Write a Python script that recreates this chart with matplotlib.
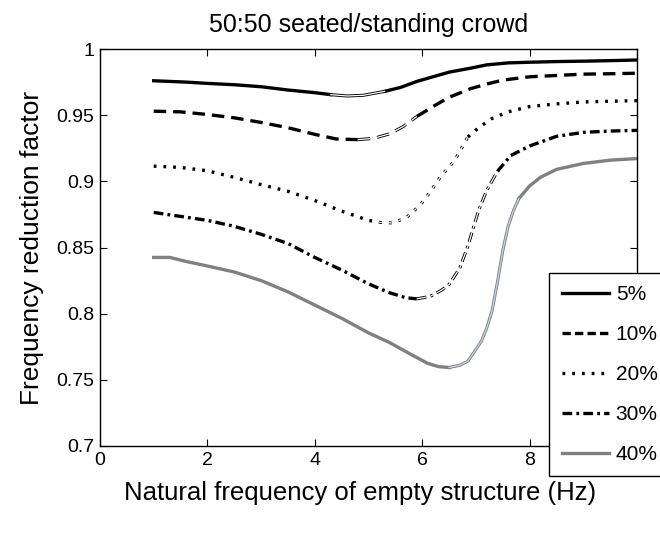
import matplotlib
matplotlib.use("Agg")
import matplotlib.pyplot as plt
from matplotlib.lines import Line2D

plt.rcParams['font.family'] = ['Liberation Sans', 'DejaVu Sans']
plt.rcParams['lines.scale_dashes'] = False

# data
x5 = [1.0, 1.3, 1.6, 2.0, 2.5, 3.0, 3.5, 4.0, 4.3, 4.6, 4.9, 5.3, 5.6, 5.9, 6.2, 6.5,
      6.9, 7.2, 7.6, 8.0, 8.5, 9.0, 9.5, 10.0]
v5 = [0.976, 0.9755, 0.975, 0.974, 0.973, 0.9715, 0.969, 0.967, 0.9655, 0.9645, 0.965, 0.968,
      0.971, 0.9755, 0.979, 0.9825, 0.9855, 0.988, 0.9895, 0.990, 0.9905, 0.9908, 0.9912, 0.9917]

x10 = [1.0, 1.5, 2.0, 2.5, 3.0, 3.5, 4.0, 4.4, 4.8, 5.1, 5.4, 5.65, 5.9, 6.2, 6.5, 6.9,
       7.2, 7.5, 8.0, 8.5, 9.0, 9.5, 10.0]
v10 = [0.953, 0.9525, 0.9505, 0.948, 0.9445, 0.9405, 0.9355, 0.932, 0.9315, 0.9325, 0.936,
       0.9415, 0.949, 0.9565, 0.9635, 0.970, 0.9735, 0.9765, 0.979, 0.980, 0.981, 0.9813, 0.9817]

x20 = [1.0, 1.5, 2.0, 2.5, 3.0, 3.5, 4.0, 4.5, 5.0, 5.2, 5.45, 5.7, 5.95, 6.15, 6.35, 6.6,
       6.85, 7.05, 7.3, 7.6, 8.0, 8.5, 9.0, 9.5, 10.0]
v20 = [0.9115, 0.9105, 0.908, 0.903, 0.8975, 0.8925, 0.8855, 0.8775, 0.8705, 0.869, 0.8685,
       0.8725, 0.8815, 0.892, 0.904, 0.9155, 0.9335, 0.9405, 0.9475, 0.9525, 0.9565, 0.9585,
       0.960, 0.9605, 0.961]

x30 = [1.0, 1.5, 2.0, 2.5, 3.0, 3.5, 4.0, 4.5, 5.0, 5.4, 5.7, 5.9, 6.15, 6.35, 6.5, 6.7,
       6.85, 7.05, 7.2, 7.4, 7.65, 8.0, 8.5, 9.0, 9.5, 10.0]
v30 = [0.8765, 0.8735, 0.8705, 0.866, 0.860, 0.853, 0.8425, 0.833, 0.8225, 0.8157, 0.812,
       0.8112, 0.8131, 0.8175, 0.822, 0.8345, 0.851, 0.878, 0.893, 0.9075, 0.9195, 0.9267,
       0.934, 0.937, 0.938, 0.9385]

x40 = [1.0, 1.3, 1.6, 2.0, 2.5, 3.0, 3.5, 4.0, 4.5, 5.0, 5.4, 5.8, 6.1, 6.3, 6.5, 6.7,
       6.85, 7.0, 7.1, 7.2, 7.3, 7.4, 7.5, 7.6, 7.7, 7.8, 8.0, 8.2, 8.5, 9.0, 9.5, 10.0]
v40 = [0.8425, 0.8425, 0.8395, 0.836, 0.8315, 0.825, 0.8165, 0.8065, 0.7965, 0.7855, 0.778,
       0.769, 0.7625, 0.760, 0.7593, 0.761, 0.764, 0.773, 0.779, 0.789, 0.802, 0.8236, 0.8475,
       0.866, 0.878, 0.887, 0.8965, 0.903, 0.909, 0.9135, 0.916, 0.9172]

labels = ['5%', '10%', '20%', '30%', '40%']
yticks = [0.7, 0.75, 0.8, 0.85, 0.9, 0.95, 1]
ytick_labels = ['0.7', '0.75', '0.8', '0.85', '0.9', '0.95', '1']
xticks = [0, 2, 4, 6, 8]

GRAY = '#808080'
BLUE = '#c4d5ee'
dashed = (0, (9, 5))
dotted = (0, (2, 5))
dashdot = (0, (7, 3, 2, 3))

series = [
    # x, y, style, colour, hollow index range, hollow edge, hollow fill
    (x5, v5, '-', 'black', (8, 11), 'black', 'white'),
    (x10, v10, dashed, 'black', (8, 12), 'black', 'white'),
    (x20, v20, dotted, 'black', (9, 16), 'black', 'white'),
    (x30, v30, dashdot, 'black', (11, 19), 'black', 'white'),
    (x40, v40, '-', GRAY, (14, 25), GRAY, BLUE),
]

fig = plt.figure(figsize=(6.6, 5.33), dpi=100)
ax = fig.add_axes([100 / 660, 1 - 446 / 533, 537 / 660, 397 / 533])

for x, y, ls, col, (i0, i1), edge, fill in series:
    # solid parts before and after the hollow piece
    ax.plot(x[:i0 + 1], y[:i0 + 1], ls=ls, color=col, lw=2.4)
    ax.plot(x[i1:], y[i1:], ls=ls, color=col, lw=2.4)
    ax.plot(x[i0:i1 + 1], y[i0:i1 + 1], ls=ls, color=edge, lw=2.2)
    ax.plot(x[i0:i1 + 1], y[i0:i1 + 1], ls=ls, color=fill, lw=0.9)

handles = [
    Line2D([], [], ls='-', color='black', lw=2.4),
    Line2D([], [], ls=(0, (6, 3)), color='black', lw=2.4),
    Line2D([], [], ls=dotted, color='black', lw=2.4),
    Line2D([], [], ls=dashdot, color='black', lw=2.4),
    Line2D([], [], ls='-', color=GRAY, lw=2.4),
]

ax.set_xlim(0, 10)
ax.set_ylim(0.7, 1)
ax.set_xticks(xticks)
ax.set_yticks(yticks)
ax.set_yticklabels(ytick_labels)
ax.tick_params(direction='in', top=True, right=True, length=5, width=0.8,
               labelsize=14, pad=4)
for s in ax.spines.values():
    s.set_linewidth(1.0)

ax.set_title('50:50 seated/standing crowd', fontsize=18, pad=12)
ax.set_xlabel('Natural frequency of empty structure (Hz)', fontsize=18.5, labelpad=9)
ax.xaxis.set_label_coords(0.485, -0.087)
ax.set_ylabel('Frequency reduction factor', fontsize=19, labelpad=9)

leg = ax.legend(handles, labels, loc='upper left', fontsize=15,
                bbox_to_anchor=(549 / 660, 1 - 273 / 533, 112 / 660, 0),
                bbox_transform=fig.transFigure, mode='expand', borderaxespad=0,
                handlelength=2.3, handletextpad=0.3, labelspacing=1.0,
                frameon=True, fancybox=False, framealpha=1, borderpad=0.6)
leg.get_frame().set_edgecolor('black')
leg.get_frame().set_linewidth(1.0)

fig.savefig('out.png', dpi=100)
